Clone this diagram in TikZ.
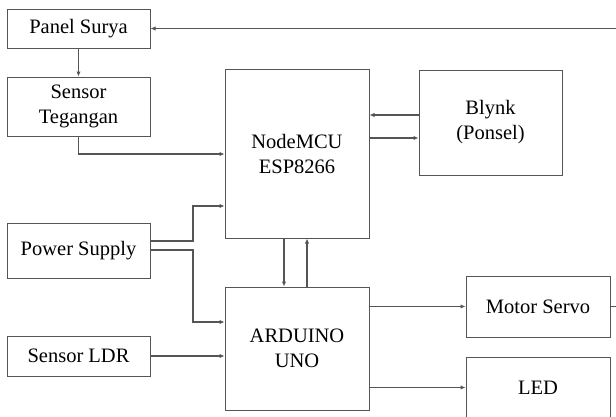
\documentclass[tikz,border=0pt]{standalone}
\usepackage{fontspec}
\setmainfont{LiberationSerif}[Extension = .ttf, UprightFont = *-Regular]
\usetikzlibrary{arrows.meta}
\definecolor{garis}{HTML}{555555}
\begin{document}
\begin{tikzpicture}[x = 1pt, y = -1pt,
	blok/.style = {draw = garis, line width = 1pt, align = center, inner sep = 0pt, font = \rmfamily\fontsize{20.5}{25}\selectfont},
	arr/.style = {draw = garis, line width = 1.1pt, -{Latex[length = 5pt, width = 4.5pt]}}]
\clip (0,0) rectangle (616,416);
\node[blok, minimum width = 143, minimum height = 39] (panel) at (78.5,28.5) {Panel Surya};
\node[blok, minimum width = 143, minimum height = 59] (tegangan) at (78.5,106.5) {Sensor\\Tegangan};
\node[blok, minimum width = 144, minimum height = 169] (nodemcu) at (297,153.5) {NodeMCU\\ESP8266};
\node[blok, minimum width = 143, minimum height = 105] (blynk) at (490.5,122.5) {Blynk\\(Ponsel)};
\node[blok, minimum width = 143, minimum height = 55] (power) at (78.5,250.5) {Power Supply};
\node[blok, minimum width = 143, minimum height = 40] (ldr) at (78.5,356) {Sensor LDR};
\node[blok, minimum width = 144, minimum height = 123] (arduino) at (297,348.5) {ARDUINO\\UNO};
\node[blok, minimum width = 144, minimum height = 61] (servo) at (538,306.5) {Motor Servo};
\node[blok, minimum width = 144, minimum height = 61] (led) at (538,387.5) {LED};
\draw[arr] (panel) -- (tegangan);
\draw[arr] (tegangan.south) |- (nodemcu.west |- 0,154);
\draw[arr] (blynk.west |- 0,115) -- (nodemcu.east |- 0,115);
\draw[arr] (nodemcu.east |- 0,138) -- (blynk.west |- 0,138);
\draw[arr] (power.east |- 0,241) -- (193,241) |- (nodemcu.west |- 0,206);
\draw[arr] (power.east |- 0,250) -- (193,250) |- (arduino.west |- 0,322);
\draw[arr] (ldr) -- (arduino.west |- ldr);
\draw[arr] (nodemcu.south -| 284,0) -- (arduino.north -| 284,0);
\draw[arr] (arduino.north -| 307,0) -- (nodemcu.south -| 307,0);
\draw[arr] (arduino.east |- servo) -- (servo);
\draw[arr] (arduino.east |- led) -- (led);
\draw[arr] (servo.east) -- (625,306.5) |- (panel.east);
\end{tikzpicture}
\end{document}
